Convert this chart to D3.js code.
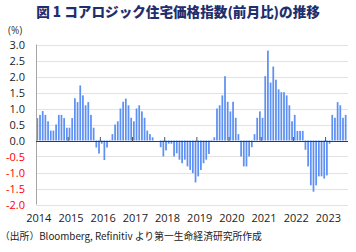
<!DOCTYPE html>
<html>
<head>
<meta charset="utf-8">
<script src="https://cdn.jsdelivr.net/npm/d3@7"></script>
<style>
  body { margin: 0; background: #fff; }
  svg { display: block; }
  text { font-family: "Open Sans", "Noto Sans CJK JP", sans-serif; }
</style>
</head>
<body>
<svg width="356" height="252"></svg>
<script>
// monthly change (%), Jan 2014 .. Aug 2023
var years = ['2014', '2015', '2016', '2017', '2018', '2019', '2020', '2021', '2022', '2023']
var v2014 = [0.7, 0.8, 0.92, 0.8, 0.6, 0.31, 0.31, 0.5, 0.8, 0.8, 0.7, 0.4]
var v2015 = [0.4, 0.7, 1.32, 1.2, 1.72, 1.41, 1.1, 1.2, 0.8, 0.4, -0.22, -0.41]
var v2016 = [-0.1, -0.61, -0.22, 0.02, 0.2, 0.5, 0.6, 1.0, 1.21, 1.31, 1.1, 0.71]
var v2017 = [0.6, 1.0, 1.1, 0.91, 0.71, 0.31, 0.2, 0.1, 0.0, 0.0, -0.21, -0.5]
var v2018 = [-0.31, -0.1, -0.1, -0.5, -0.4, -0.6, -0.71, -0.6, -0.81, -0.92, -1.02, -1.31]
var v2019 = [-1.12, -0.92, -0.71, -0.6, -0.42, 0.02, 0.1, 1.0, 1.1, 1.41, 2.01, 1.21]
var v2020 = [0.91, 1.21, 0.71, 0.2, -0.5, -0.81, -0.81, -0.5, -0.21, 0.2, 0.71, 0.91]
var v2021 = [0.71, 2.01, 2.81, 1.81, 2.31, 1.9, 1.6, 1.51, 1.51, 1.41, 1.1, 0.6]
var v2022 = [0.8, 0.3, 0.3, 0.3, -0.29, -0.81, -1.4, -1.6, -1.4, -1.12, -1.12, -1.19]
var v2023 = [-1.09, -0.1, 0.8, 0.71, 1.2, 1.1, 0.71, 0.8]
var yTicks = [3.0, 2.5, 2.0, 1.5, 1.0, 0.5, 0.0, -0.5, -1.0, -1.5, -2.0]

var series = [v2014, v2015, v2016, v2017, v2018, v2019, v2020, v2021, v2022, v2023]
var data = []
series.forEach((arr, yi) => {
  arr.forEach((v, m) => {
    data.push({ key: years[yi] + '-' + (m + 1), year: years[yi], month: m, value: v })
  })
})

var svg = d3.select('svg')
var plotL = 36, plotR = 347, plotT = 44.5, plotB = 204.5

var x = d3.scaleBand()
  .domain(data.map(d => d.key))
  .range([plotL, plotR])
  .paddingInner(0.35)
  .paddingOuter(0.175)

var y = d3.scaleLinear()
  .domain([-2, 3])
  .range([plotB, plotT])

// title
svg.append('text')
  .attr('x', 178)
  .attr('y', 16.5)
  .attr('text-anchor', 'middle')
  .style('font-family', '"Noto Sans CJK JP", sans-serif')
  .style('font-weight', '900')
  .style('font-size', '13.6px')
  .attr('fill', '#1f2f6e')
  .text('図 1 コアロジック住宅価格指数(前月比)の推移')

svg.append('text')
  .attr('x', 8)
  .attr('y', 34)
  .style('font-size', '10px')
  .attr('fill', '#333')
  .text('(%)')

// gridlines
svg.append('g')
  .selectAll('line')
  .data(yTicks)
  .enter().append('line')
  .attr('x1', plotL)
  .attr('x2', plotR + 1)
  .attr('y1', d => Math.round(y(d)) + 0.5)
  .attr('y2', d => Math.round(y(d)) + 0.5)
  .attr('stroke', '#e3e3e3')
  .attr('stroke-width', 1)

// y labels
svg.append('g')
  .selectAll('text')
  .data(yTicks)
  .enter().append('text')
  .attr('x', 25)
  .attr('y', d => y(d) + 4)
  .attr('text-anchor', 'end')
  .style('font-size', '11px')
  .attr('fill', d => d < 0 ? '#ff0000' : '#222')
  .text(d => d.toFixed(1))

// bars
svg.append('g')
  .selectAll('rect')
  .data(data)
  .enter().append('rect')
  .attr('x', d => x(d.key))
  .attr('width', x.bandwidth())
  .attr('y', d => y(Math.max(0, d.value)))
  .attr('height', d => Math.abs(y(d.value) - y(0)))
  .attr('fill', '#5e91f2')

// y axis line
svg.append('line')
  .attr('x1', plotL + 0.5).attr('x2', plotL + 0.5)
  .attr('y1', plotT).attr('y2', plotB)
  .attr('stroke', '#a6a6a6')

// zero line
svg.append('line')
  .attr('x1', plotL).attr('x2', plotR + 1)
  .attr('y1', Math.round(y(0)) + 0.5).attr('y2', Math.round(y(0)) + 0.5)
  .attr('stroke', '#3a3a3a')

// year ticks on zero line
var janKeys = data.filter(d => d.month === 0)
svg.append('g')
  .selectAll('line')
  .data(janKeys.slice(1))
  .enter().append('line')
  .attr('x1', d => x(d.key) - x.step() * x.paddingInner() / 2)
  .attr('x2', d => x(d.key) - x.step() * x.paddingInner() / 2)
  .attr('y1', Math.round(y(0)) - 4)
  .attr('y2', Math.round(y(0)) + 1)
  .attr('stroke', '#555')

// year labels
svg.append('g')
  .selectAll('text')
  .data(janKeys)
  .enter().append('text')
  .attr('x', d => x(d.key) + x.bandwidth() / 2 + 1.5)
  .attr('y', 222)
  .attr('text-anchor', 'middle')
  .style('font-size', '11px')
  .attr('fill', '#222')
  .text(d => d.year)

// source
svg.append('text')
  .attr('x', 0)
  .attr('y', 240)
  .style('font-family', '"Noto Sans CJK JP", sans-serif')
  .style('font-size', '9.8px')
  .attr('fill', '#222')
  .text('（出所）Bloomberg, Refinitiv より第一生命経済研究所作成')
</script>
</body>
</html>
